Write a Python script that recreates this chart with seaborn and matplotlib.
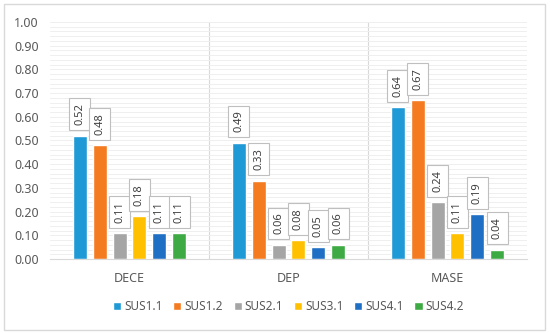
import matplotlib
matplotlib.use("Agg")
import matplotlib.pyplot as plt
import seaborn as sns
import pandas as pd
import numpy as np
from matplotlib.ticker import MultipleLocator, FormatStrFormatter
from matplotlib.patches import Rectangle

categories = ["DECE", "DEP", "MASE"]
series = ["SUS1.1", "SUS1.2", "SUS2.1", "SUS3.1", "SUS4.1", "SUS4.2"]
sus11 = [0.52, 0.49, 0.64]
sus12 = [0.48, 0.33, 0.67]
sus21 = [0.11, 0.06, 0.24]
sus31 = [0.18, 0.08, 0.11]
sus41 = [0.11, 0.05, 0.19]
sus42 = [0.11, 0.06, 0.04]
colors = ["#1F9AD6", "#F47B20", "#A5A5A5", "#FFC000", "#1F6FC5", "#3DAA43"]

values = [sus11, sus12, sus21, sus31, sus41, sus42]
rows = []
for s, vals in zip(series, values):
    for c, v in zip(categories, vals):
        rows.append({"cat": c, "series": s, "value": v})
df = pd.DataFrame(rows)

sns.set_style("white")
plt.rcParams['font.family'] = ['Noto Sans', 'DejaVu Sans']
fig = plt.figure(figsize=(5.5, 3.33), dpi=100)
ax = fig.add_axes([50/550, 1-259/333, 477/550, 237/333])

sns.barplot(data=df, x="cat", y="value", hue="series", order=categories,
            hue_order=series, palette=colors, width=0.75, gap=0.3,
            saturation=1, ax=ax, legend=True)

ax.set_ylim(0, 1.0)
ax.set_xlim(-0.5, 2.5)
ax.yaxis.set_major_locator(MultipleLocator(0.1))
ax.yaxis.set_minor_locator(MultipleLocator(0.02))
ax.yaxis.set_major_formatter(FormatStrFormatter("%.2f"))
ax.grid(True, which="both", axis="y", color="#efefef", linewidth=0.7)
ax.set_axisbelow(True)
for xv in [0.5, 1.5]:
    ax.axvline(xv, color="#d9d9d9", linewidth=0.8, zorder=0)
for sp in ["top", "right", "left"]:
    ax.spines[sp].set_visible(False)
ax.spines["bottom"].set_color("#d9d9d9")
ax.tick_params(axis="both", length=0, labelsize=9, labelcolor="#595959")
ax.tick_params(axis="x", pad=9)
ax.tick_params(axis="y", pad=8)
ax.set_xlabel("")
ax.set_ylabel("")

for cont in ax.containers:
    for bar in cont:
        h = bar.get_height()
        x = bar.get_x() + bar.get_width() / 2
        ax.annotate(f"{h:.2f}", (x, h), xytext=(0, 7.5), textcoords="offset points",
                    rotation=90, ha="center", va="bottom", fontsize=8,
                    color="#404040",
                    bbox=dict(boxstyle="square,pad=0.45", fc="white", ec="#bfbfbf", lw=0.8))

leg = ax.legend(loc="upper center", bbox_to_anchor=(0.5, -0.13), ncol=6,
                frameon=False, fontsize=8.5, handlelength=0.7, handleheight=0.7,
                handletextpad=0.25, columnspacing=0.9)
for t in leg.get_texts():
    t.set_color("#595959")

fig.patches.append(Rectangle((4/550, 3/333), 541/550, 326/333, transform=fig.transFigure,
                             fill=False, ec="#d9d9d9", lw=1.0))

fig.savefig("out.png", dpi=100)
